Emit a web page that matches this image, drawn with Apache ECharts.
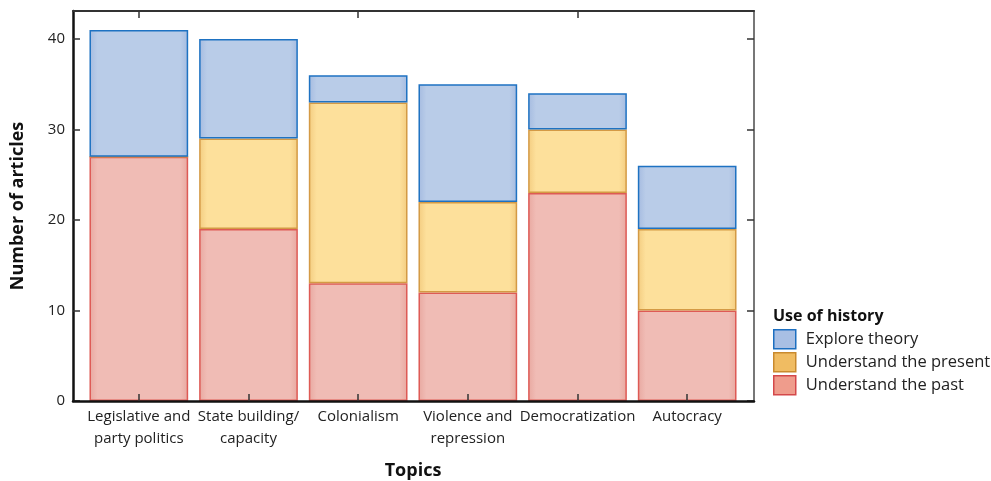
<!DOCTYPE html>
<html><head><meta charset="utf-8">
<script src="https://cdn.jsdelivr.net/npm/echarts@6/dist/echarts.min.js"></script>
<style>html,body{margin:0;padding:0;background:#fff}#c{width:991px;height:481px}</style>
</head><body><div id="c"></div>
<script>
const categories = ['Legislative and\nparty politics','State building/\ncapacity','Colonialism','Violence and\nrepression','Democratization','Autocracy'];
const understandPast = [27,19,13,12,23,10];
const understandPresent = [0,10,20,10,7,9];
const exploreTheory = [14,11,3,13,4,7];
const yTicks = [0,10,20,30,40];
const FONT = '"Open Sans", "Noto Sans", sans-serif';
const YMAX = 43.1;

function grad(edge, mid){
  return {type:'linear',x:0,y:0,x2:1,y2:0,colorStops:[
    {offset:0,color:edge},{offset:0.08,color:mid},{offset:0.92,color:mid},{offset:1,color:edge}]};
}
const chart = echarts.init(document.getElementById('c'));
const mk = (name,data,fillEdge,fill,border)=>({
  name, type:'bar', stack:'a', data, barCategoryGap:'10%', xAxisIndex:0, yAxisIndex:0, z:1,
  itemStyle:{color:grad(fillEdge,fill), borderColor:border, borderWidth:1.5},
  emphasis:{disabled:true}
});
const tick = () => ({show:true,inside:true,length:7,lineStyle:{color:'#333',width:1.5}});
chart.setOption({
  animation:false,
  grid:[
    {left:84,right:249,top:11,bottom:80,outerBoundsMode:'none',containLabel:false},
    {left:73,right:237,top:11,bottom:80,outerBoundsMode:'none',containLabel:false}
  ],
  title:{text:'Use of history',left:768,top:303,textStyle:{fontFamily:FONT,fontSize:16,fontWeight:'bold',color:'#111'}},
  legend:{orient:'vertical',left:768,top:324,itemWidth:22,itemHeight:19,itemGap:2.5,
    textStyle:{fontFamily:FONT,fontSize:16.5,color:'#222',padding:[0,0,0,5]},
    data:[
      {name:'Explore theory',icon:'rect',itemStyle:{color:'#A8BFE4',borderColor:'#1C6FC0',borderWidth:1.5}},
      {name:'Understand the present',icon:'rect',itemStyle:{color:'#F0BC62',borderColor:'#C98A2E',borderWidth:1.5}},
      {name:'Understand the past',icon:'rect',itemStyle:{color:'#EF9C8C',borderColor:'#D4484A',borderWidth:1.5}}
    ]},
  xAxis:[
    {gridIndex:0,type:'category',data:categories,position:'bottom',z:10,
     axisLine:{show:true,onZero:false,lineStyle:{color:'rgba(0,0,0,0)'}},
     axisTick:Object.assign({alignWithLabel:true},tick()),
     axisLabel:{fontFamily:FONT,fontSize:15,color:'#222',margin:5,lineHeight:22,interval:0},
     name:'Topics',nameLocation:'middle',nameGap:61,
     nameTextStyle:{fontFamily:FONT,fontSize:18,fontWeight:'bold',color:'#111'}},
    {gridIndex:0,type:'category',data:categories,position:'top',z:10,
     axisLine:{show:true,onZero:false,lineStyle:{color:'rgba(0,0,0,0)'}},
     axisTick:Object.assign({alignWithLabel:true},tick()),
     axisLabel:{show:false}},
    {gridIndex:1,type:'value',min:0,max:1,position:'bottom',z:10,
     axisLine:{show:true,onZero:false,lineStyle:{color:'#111',width:2.5}},
     axisTick:{show:false},axisLabel:{show:false},splitLine:{show:false}},
    {gridIndex:1,type:'value',min:0,max:1,position:'top',
     axisLine:{show:true,onZero:false,lineStyle:{color:'#333',width:2}},
     axisTick:{show:false},axisLabel:{show:false},splitLine:{show:false}}
  ],
  yAxis:[
    {gridIndex:0,type:'value',min:0,max:YMAX,show:false},
    {gridIndex:1,type:'value',min:0,max:YMAX,interval:10,position:'left',
     axisLine:{show:true,onZero:false,lineStyle:{color:'#111',width:2.5}},
     axisTick:Object.assign({customValues:yTicks},tick()),
     axisLabel:{fontFamily:FONT,fontSize:15,color:'#222',margin:8,customValues:yTicks},
     splitLine:{show:false},
     name:'Number of articles',nameLocation:'middle',nameGap:46,nameRotate:90,
     nameTextStyle:{fontFamily:FONT,fontSize:18,fontWeight:'bold',color:'#111'}},
    {gridIndex:1,type:'value',min:0,max:YMAX,interval:10,position:'right',
     axisLine:{show:true,onZero:false,lineStyle:{color:'#777',width:2}},
     axisTick:Object.assign({customValues:yTicks},tick()),
     axisLabel:{show:false},splitLine:{show:false}}
  ],
  series:[
    mk('Understand the past',understandPast,'#E8A8A0','#F0BCB5','#DE5A55'),
    mk('Understand the present',understandPresent,'#F3CC80','#FDE09B','#D49A45'),
    mk('Explore theory',exploreTheory,'#A5BBE0','#B9CCE8','#1E72C2')
  ]
});
</script></body></html>
